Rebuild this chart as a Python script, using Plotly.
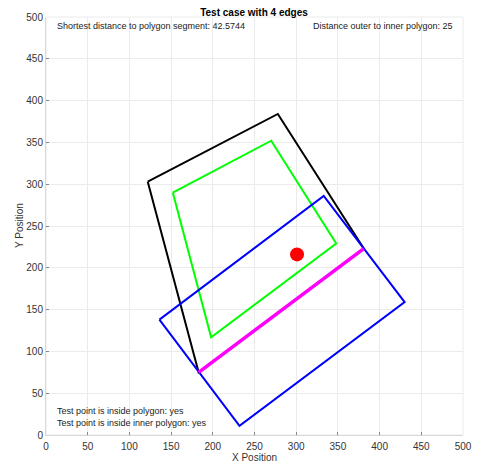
import plotly.graph_objects as go

outer_x = [122, 278, 381, 183, 122]
outer_y = [303, 384, 223, 75, 303]
inner_x = [152, 270, 348, 198, 152]
inner_y = [290, 352, 229, 117, 290]
rect_x = [136, 333, 430, 232, 136]
rect_y = [138, 286, 159, 11, 138]
seg_x = [183, 381]
seg_y = [75, 223]
pt_x = [301]
pt_y = [216]
ticks = list(range(0, 501, 50))

fig = go.Figure()
fig.add_trace(go.Scatter(x=outer_x, y=outer_y, mode="lines", line=dict(color="black", width=2)))
fig.add_trace(go.Scatter(x=inner_x, y=inner_y, mode="lines", line=dict(color="#00ff00", width=2)))
fig.add_trace(go.Scatter(x=rect_x, y=rect_y, mode="lines", line=dict(color="#0000ff", width=2)))
fig.add_trace(go.Scatter(x=seg_x, y=seg_y, mode="lines", line=dict(color="#ff00ff", width=3.5)))
fig.add_trace(go.Scatter(x=pt_x, y=pt_y, mode="markers", marker=dict(color="red", size=14)))

font = "Liberation Sans, Arial, sans-serif"
axis_common = dict(
    range=[0, 500], tickvals=ticks, showgrid=True, gridcolor="#ebebeb", gridwidth=1,
    zeroline=False, showline=True, linecolor="#d8d8d8", linewidth=1, mirror=False,
    ticks="inside", ticklen=3, tickcolor="#888888", automargin=False,
    tickfont=dict(family=font, size=10, color="#333333"),
)
fig.update_layout(
    width=478, height=463,
    margin=dict(l=46, r=15, t=17, b=28),
    plot_bgcolor="white", paper_bgcolor="white",
    showlegend=False,
    title=dict(text="<b>Test case with 4 edges</b>", x=254 / 478, xanchor="center",
               y=1 - 12 / 463, yanchor="middle",
               font=dict(family=font, size=10, color="black")),
    xaxis=dict(axis_common, ticklabelstandoff=2, title=dict(text="X Position", standoff=1,
                                       font=dict(family=font, size=10, color="#333333"))),
    yaxis=dict(axis_common, title=dict(text="")),
)
ann_font = dict(family=font, size=9, color="#222222")
def py(pix):
    return (435 - pix) / 418

fig.add_annotation(x=-27 / 417, y=0.5, xref="paper", yref="paper", xanchor="center", yanchor="middle",
                   text="Y Position", textangle=-90, showarrow=False,
                   font=dict(family=font, size=10, color="#333333"))
fig.add_annotation(x=9 / 417, y=py(26), xref="paper", yref="paper", xanchor="left", yanchor="middle",
                   text="Shortest distance to polygon segment: 42.5744", showarrow=False, font=ann_font)
fig.add_annotation(x=1 - 8 / 417, y=py(26), xref="paper", yref="paper", xanchor="right", yanchor="middle",
                   text="Distance outer to inner polygon: 25", showarrow=False, font=ann_font)
fig.add_annotation(x=9 / 417, y=py(410.5), xref="paper", yref="paper", xanchor="left", yanchor="middle",
                   text="Test point is inside polygon: yes", showarrow=False, font=ann_font)
fig.add_annotation(x=9 / 417, y=py(423.3), xref="paper", yref="paper", xanchor="left", yanchor="middle",
                   text="Test point is inside inner polygon: yes", showarrow=False, font=ann_font)
fig.add_shape(type="rect", xref="paper", yref="paper", x0=0, y0=0, x1=1, y1=1,
              line=dict(color="#ebebeb", width=1), layer="below")

fig.write_html("out.html", config={"displayModeBar": False},
               post_script="document.body.style.margin='0';document.body.style.overflow='hidden';")
